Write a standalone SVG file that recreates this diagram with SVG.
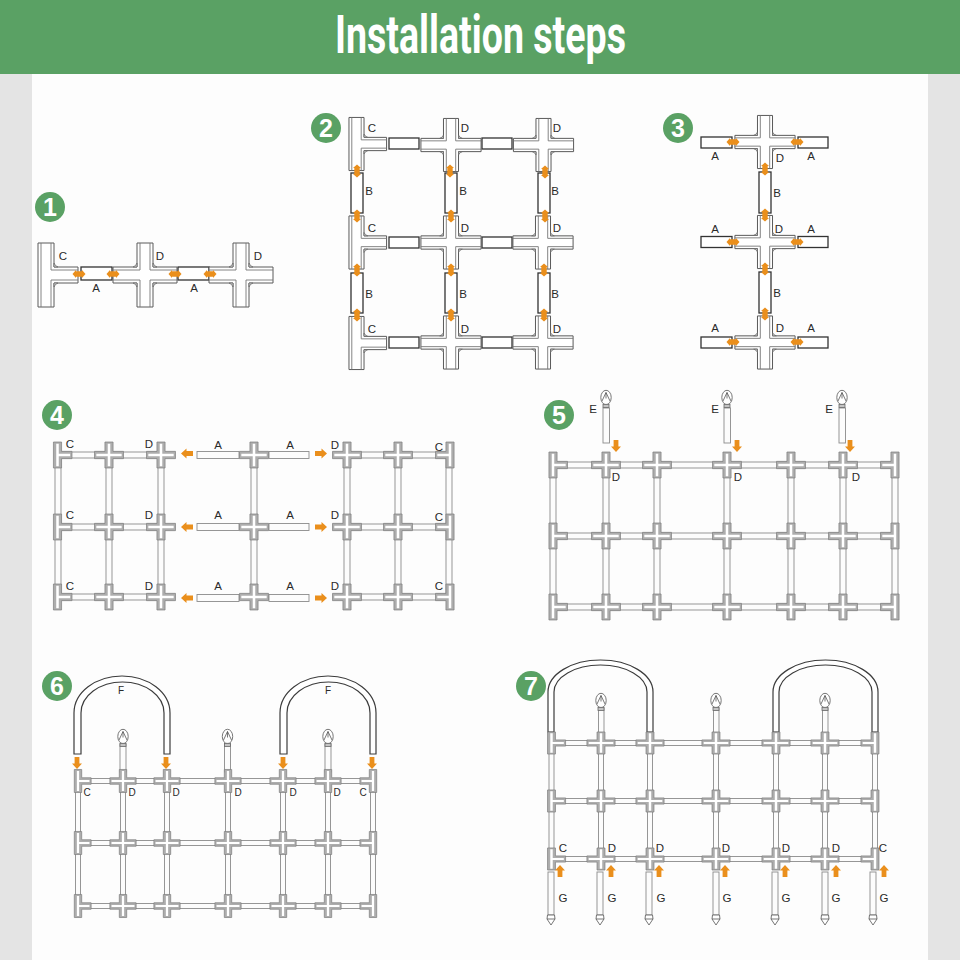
<svg xmlns="http://www.w3.org/2000/svg" width="960" height="960" viewBox="0 0 960 960">
<style>
text{font-family:"Liberation Sans",Arial,sans-serif;fill:#2a2a2a;text-anchor:middle}
.l{font-size:11.5px}.m{font-size:11.5px}.s{font-size:10px}
.num{font-size:25px;font-weight:700;fill:#fff}
.bf{fill:#fff;stroke:#5a5a5a;stroke-width:1;vector-effect:non-scaling-stroke}
.bi{fill:none;stroke:#777;stroke-width:.9;vector-effect:non-scaling-stroke}
.bg{fill:#c9c9c9;stroke:#666;stroke-width:.7;vector-effect:non-scaling-stroke}
.sf{fill:#adadad;stroke:#7c7c7c;stroke-width:.7;vector-effect:non-scaling-stroke}
.sw{fill:#fff;stroke:none}
.rect{fill:#fff;stroke:#333;stroke-width:1.3}
.rod{fill:#fcfcfc;stroke:#8c8c8c;stroke-width:.9}
.arch{fill:#fff;stroke:#3c3c3c;stroke-width:1.2}
.or{fill:#ea8f1c}
.bd{fill:#5aa164}
.pin{fill:#fff;stroke:#666;stroke-width:.9}
.pc{fill:#c4c4c4;stroke:#666;stroke-width:.8}
.pl{fill:none;stroke:#555;stroke-width:.8}
</style>
<defs>
<g id="BX">
<path class="bf" d="M-8,-32H8V-8H32V8H8V32H-8V8H-32V-8H-8Z"/>
<path class="bi" d="M-5,-32V-5H-32M5,-32V-5H32M-5,32V5H-32M5,32V5H32"/>
<path class="bg" d="M8,-12Q9,-9 12,-8H8ZM-8,-12Q-9,-9 -12,-8H-8ZM8,12Q9,9 12,8H8ZM-8,12Q-9,9 -12,8H-8Z"/>
</g>
<g id="BT">
<path class="bf" d="M-8,-32H8V-8H32V8H8V32H-8Z"/>
<path class="bi" d="M-5,-32V32M5,-32V-5H32M5,32V5H32"/>
<path class="bg" d="M8,-12Q9,-9 12,-8H8ZM8,12Q9,9 12,8H8Z"/>
</g>
<g id="SX">
<path class="sf" d="M-9,-32H9V-9H32V9H9V32H-9V9H-32V-9H-9Z"/>
<path class="sw" d="M-2.800,-28H2.800V-2.800H28V2.800H2.800V28H-2.800V2.800H-28V-2.800H-2.800Z"/>
</g>
<g id="ST">
<path class="sf" d="M-9,-32H9V-9H32V9H9V32H-9Z"/>
<path class="sw" d="M-2.800,-28H2.800V-2.800H28V2.800H2.800V28H-2.800Z"/>
</g>
<use id="x2" href="#BX" transform="scale(.94,.83)"/>
<use id="t2" href="#BT" transform="scale(.94,.83)"/>
<use id="x4" href="#SX" transform="scale(.453,.406)"/>
<use id="t4" href="#ST" transform="scale(.453,.406)"/>
<use id="r4" href="#ST" transform="scale(-.453,.406)"/>
<use id="x6" href="#SX" transform="scale(.41,.36)"/>
<use id="t6" href="#ST" transform="scale(.41,.36)"/>
<use id="r6" href="#ST" transform="scale(-.41,.36)"/>
<use id="x7" href="#SX" transform="scale(.44,.345)"/>
<use id="t7" href="#ST" transform="scale(.44,.345)"/>
<use id="r7" href="#ST" transform="scale(-.44,.345)"/>
<path id="oh" class="or" d="M-6.500,0L-3,-4V-2.700H3V-4L6.500,0L3,4V2.700H-3V4Z"/>
<path id="ov" class="or" d="M0,-6.500L4,-3H2.700V3H4L0,6.500L-4,3H-2.700V-3H-4Z"/>
<path id="ar" class="or" d="M-6,-2.400H.5V-5L6,0L.5,5V2.400H-6Z"/>
<g id="head">
<ellipse class="pin" rx="5.2" ry="7.2"/>
<path class="pl" d="M0,-5L-4,3.5M0,-5L4,3.5M0,-5V1"/>
<rect class="pc" x="-3" y="6.8" width="6" height="3.2"/>
</g>
<g id="stake">
<rect class="rod" x="-3" y="0" width="6" height="43"/>
<path class="pin" d="M-3.5,43H3.5L4,47L0,53L-4,47Z"/>
<path class="pl" d="M-4,47H4"/>
</g>
<path id="F" class="arch" d="M74,754V713A48,37 0 0 1 170,713V754H164V713A41.5,31 0 0 0 81,713V754Z"/>
<path id="F7" class="arch" d="M548,732V692A52.5,32 0 0 1 653,692V732H647V692A46.5,27 0 0 0 554,692V732Z"/>
</defs>

<rect width="960" height="960" fill="#e4e4e4"/>
<rect x="32" y="74" width="896" height="886" fill="#fdfdfd"/>
<g id="header">
<rect width="960" height="74" class="bd"/>
<text x="480.500" y="53" font-size="53" textLength="291" lengthAdjust="spacingAndGlyphs" style="fill:#fff;font-family:'Roboto','Liberation Sans',sans-serif;font-weight:700">Installation steps</text>
</g>
<g id="badges">
<g id="badge1"><circle class="bd" cx="50" cy="207" r="15"/><text class="num" x="50" y="216">1</text></g>
<g id="badge2"><circle class="bd" cx="326" cy="128" r="15"/><text class="num" x="326" y="137">2</text></g>
<g id="badge3"><circle class="bd" cx="678" cy="128" r="15"/><text class="num" x="678" y="137">3</text></g>
<g id="badge4"><circle class="bd" cx="57" cy="415" r="15"/><text class="num" x="57" y="424">4</text></g>
<g id="badge5"><circle class="bd" cx="559" cy="415" r="15"/><text class="num" x="559" y="424">5</text></g>
<g id="badge6"><circle class="bd" cx="57" cy="686" r="15"/><text class="num" x="57" y="695">6</text></g>
<g id="badge7"><circle class="bd" cx="531" cy="686" r="15"/><text class="num" x="531" y="695">7</text></g>
</g>

<g id="connectors">
<g id="rods4">
<rect class="rod" x="57" y="452" width="104" height="6"/><rect class="rod" x="57" y="524" width="104" height="6"/><rect class="rod" x="57" y="594" width="104" height="6"/>
<rect class="rod" x="347" y="452" width="103" height="6"/><rect class="rod" x="347" y="524" width="103" height="6"/><rect class="rod" x="347" y="594" width="103" height="6"/>
<rect class="rod" x="55" y="455" width="6" height="142"/><rect class="rod" x="106" y="455" width="6" height="142"/><rect class="rod" x="158" y="455" width="6" height="142"/>
<rect class="rod" x="251" y="455" width="6" height="142"/>
<rect class="rod" x="344" y="455" width="6" height="142"/><rect class="rod" x="395" y="455" width="6" height="142"/><rect class="rod" x="446" y="455" width="6" height="142"/>
<rect class="rod" x="197" y="451.500" width="42" height="7"/><rect class="rod" x="269" y="451.500" width="40" height="7"/>
<rect class="rod" x="197" y="523.500" width="42" height="7"/><rect class="rod" x="269" y="523.500" width="40" height="7"/>
<rect class="rod" x="197" y="594.500" width="42" height="7"/><rect class="rod" x="269" y="594.500" width="40" height="7"/>
</g>
<g id="rods5">
<rect class="rod" x="553" y="462" width="342" height="6"/><rect class="rod" x="553" y="533" width="342" height="6"/><rect class="rod" x="553" y="604" width="342" height="6"/>
<rect class="rod" x="550" y="465" width="6" height="142"/><rect class="rod" x="603" y="465" width="6" height="142"/><rect class="rod" x="654" y="465" width="6" height="142"/><rect class="rod" x="724" y="465" width="6" height="142"/><rect class="rod" x="788" y="465" width="6" height="142"/><rect class="rod" x="840" y="465" width="6" height="142"/><rect class="rod" x="892" y="465" width="6" height="142"/>
</g>
<g id="rods6">
<rect class="rod" x="78" y="778.500" width="295" height="5"/><rect class="rod" x="78" y="840.500" width="295" height="5"/><rect class="rod" x="78" y="903.500" width="295" height="5"/>
<rect class="rod" x="75.500" y="781" width="5" height="125"/><rect class="rod" x="120.500" y="781" width="5" height="125"/><rect class="rod" x="164.500" y="781" width="5" height="125"/><rect class="rod" x="225.500" y="781" width="5" height="125"/><rect class="rod" x="280.500" y="781" width="5" height="125"/><rect class="rod" x="325.500" y="781" width="5" height="125"/><rect class="rod" x="370.500" y="781" width="5" height="125"/>
</g>
<g id="rods7">
<rect class="rod" x="552" y="740.500" width="323" height="5"/><rect class="rod" x="552" y="798.500" width="323" height="5"/><rect class="rod" x="552" y="856.500" width="323" height="5"/>
<rect class="rod" x="549" y="743" width="5" height="116"/><rect class="rod" x="598.500" y="743" width="5" height="116"/><rect class="rod" x="647.500" y="743" width="5" height="116"/><rect class="rod" x="713.500" y="743" width="5" height="116"/><rect class="rod" x="773.500" y="743" width="5" height="116"/><rect class="rod" x="822.500" y="743" width="5" height="116"/><rect class="rod" x="872.500" y="743" width="5" height="116"/>
</g>
</g>

<g id="panel1">
<g id="p1-A1"><rect class="rect" x="81" y="267" width="31" height="13"/></g>
<g id="p1-A2"><rect class="rect" x="178" y="267" width="31" height="13"/></g>
<g id="p1-C" transform="translate(46,275)"><use href="#BT"/></g>
<g id="p1-D1" transform="translate(145,275)"><use href="#BX"/></g>
<g id="p1-D2" transform="translate(241,275)"><use href="#BX"/></g>
<text class="l" x="63" y="260">C</text><text class="l" x="160" y="260">D</text><text class="l" x="258" y="260">D</text>
<text class="l" x="96" y="292">A</text><text class="l" x="194" y="292">A</text>
</g>

<g id="panel2">
<g id="p2-rects">
<rect class="rect" x="389" y="138" width="30" height="11"/><rect class="rect" x="482" y="138" width="30" height="11"/>
<rect class="rect" x="389" y="237" width="30" height="11"/><rect class="rect" x="482" y="237" width="30" height="11"/>
<rect class="rect" x="389" y="337" width="30" height="11"/><rect class="rect" x="482" y="337" width="30" height="11"/>
<rect class="rect" x="351" y="173" width="12" height="40"/><rect class="rect" x="445" y="173" width="12" height="40"/><rect class="rect" x="538" y="173" width="12" height="40"/>
<rect class="rect" x="351" y="273" width="12" height="40"/><rect class="rect" x="445" y="273" width="12" height="40"/><rect class="rect" x="538" y="273" width="12" height="40"/>
</g>
<g id="p2-C1" transform="translate(356.500,144)"><use href="#t2"/></g>
<g id="p2-C2" transform="translate(356.500,242.500)"><use href="#t2"/></g>
<g id="p2-C3" transform="translate(356.500,343)"><use href="#t2"/></g>
<g id="p2-D11" transform="translate(451,145)"><use href="#x2"/></g>
<g id="p2-D12" transform="translate(543.500,145)"><use href="#x2"/></g>
<g id="p2-D21" transform="translate(451,242.500)"><use href="#x2"/></g>
<g id="p2-D22" transform="translate(543,242.500)"><use href="#x2"/></g>
<g id="p2-D31" transform="translate(451,342.500)"><use href="#x2"/></g>
<g id="p2-D32" transform="translate(543,342.500)"><use href="#x2"/></g>
<text class="l" x="372" y="132">C</text><text class="l" x="465" y="132">D</text><text class="l" x="557" y="132">D</text>
<text class="l" x="372" y="232">C</text><text class="l" x="465" y="232">D</text><text class="l" x="557" y="232">D</text>
<text class="l" x="372" y="333">C</text><text class="l" x="465" y="333">D</text><text class="l" x="557" y="333">D</text>
<text class="l" x="369" y="195">B</text><text class="l" x="463" y="195">B</text><text class="l" x="555" y="195">B</text>
<text class="l" x="369" y="298">B</text><text class="l" x="463" y="298">B</text><text class="l" x="555" y="298">B</text>
</g>

<g id="panel3">
<g id="p3-rects">
<rect class="rect" x="701" y="137" width="31" height="11"/><rect class="rect" x="798" y="137" width="30" height="11"/>
<rect class="rect" x="701" y="236.500" width="31" height="11"/><rect class="rect" x="798" y="236.500" width="30" height="11"/>
<rect class="rect" x="701" y="337" width="31" height="11"/><rect class="rect" x="798" y="337" width="30" height="11"/>
<rect class="rect" x="759" y="172" width="12" height="41"/><rect class="rect" x="759" y="272" width="12" height="41"/>
</g>
<g id="p3-D1" transform="translate(765,142)"><use href="#x2"/></g>
<g id="p3-D2" transform="translate(765,242)"><use href="#x2"/></g>
<g id="p3-D3" transform="translate(765,342.500)"><use href="#x2"/></g>
<text class="l" x="715" y="160">A</text><text class="l" x="780" y="162">D</text><text class="l" x="811" y="160">A</text>
<text class="l" x="777" y="197">B</text>
<text class="l" x="715" y="233">A</text><text class="l" x="779" y="233">D</text><text class="l" x="811" y="233">A</text>
<text class="l" x="777" y="297">B</text>
<text class="l" x="715" y="332">A</text><text class="l" x="780" y="332">D</text><text class="l" x="811" y="332">A</text>
</g>

<g id="panel4">
<g id="p4-C1" transform="translate(57.500,455)"><use href="#t4"/></g><g id="p4-C2" transform="translate(57.500,527)"><use href="#t4"/></g><g id="p4-C3" transform="translate(57.500,597)"><use href="#t4"/></g>
<g id="p4-X1" transform="translate(109,455)"><use href="#x4"/></g><g id="p4-X2" transform="translate(109,527)"><use href="#x4"/></g><g id="p4-X3" transform="translate(109,597)"><use href="#x4"/></g>
<g id="p4-D1" transform="translate(161,455)"><use href="#x4"/></g><g id="p4-D2" transform="translate(161,527)"><use href="#x4"/></g><g id="p4-D3" transform="translate(161,597)"><use href="#x4"/></g>
<g id="p4-M1" transform="translate(254,455)"><use href="#x4"/></g><g id="p4-M2" transform="translate(254,527)"><use href="#x4"/></g><g id="p4-M3" transform="translate(254,597)"><use href="#x4"/></g>
<g id="p4-D4" transform="translate(347,455)"><use href="#x4"/></g><g id="p4-D5" transform="translate(347,527)"><use href="#x4"/></g><g id="p4-D6" transform="translate(347,597)"><use href="#x4"/></g>
<g id="p4-X4" transform="translate(398,455)"><use href="#x4"/></g><g id="p4-X5" transform="translate(398,527)"><use href="#x4"/></g><g id="p4-X6" transform="translate(398,597)"><use href="#x4"/></g>
<g id="p4-C4" transform="translate(450,455)"><use href="#r4"/></g><g id="p4-C5" transform="translate(450,527)"><use href="#r4"/></g><g id="p4-C6" transform="translate(450,597)"><use href="#r4"/></g>
<text class="m" x="70" y="448">C</text><text class="m" x="149" y="448">D</text><text class="m" x="218" y="449">A</text><text class="m" x="290" y="449">A</text><text class="m" x="335" y="449">D</text><text class="m" x="439" y="451">C</text>
<text class="m" x="70" y="519">C</text><text class="m" x="149" y="519">D</text><text class="m" x="218" y="519">A</text><text class="m" x="290" y="519">A</text><text class="m" x="335" y="519">D</text><text class="m" x="439" y="521">C</text>
<text class="m" x="70" y="590">C</text><text class="m" x="149" y="590">D</text><text class="m" x="218" y="590">A</text><text class="m" x="290" y="590">A</text><text class="m" x="335" y="590">D</text><text class="m" x="439" y="590">C</text>
</g>

<g id="panel5">
<g id="p5-T1" transform="translate(553,465)"><use href="#t4"/></g><g id="p5-T2" transform="translate(553,536)"><use href="#t4"/></g><g id="p5-T3" transform="translate(553,607)"><use href="#t4"/></g>
<g id="p5-a1" transform="translate(606,465)"><use href="#x4"/></g><g id="p5-a2" transform="translate(606,536)"><use href="#x4"/></g><g id="p5-a3" transform="translate(606,607)"><use href="#x4"/></g>
<g id="p5-b1" transform="translate(657,465)"><use href="#x4"/></g><g id="p5-b2" transform="translate(657,536)"><use href="#x4"/></g><g id="p5-b3" transform="translate(657,607)"><use href="#x4"/></g>
<g id="p5-c1" transform="translate(727,465)"><use href="#x4"/></g><g id="p5-c2" transform="translate(727,536)"><use href="#x4"/></g><g id="p5-c3" transform="translate(727,607)"><use href="#x4"/></g>
<g id="p5-d1" transform="translate(791,465)"><use href="#x4"/></g><g id="p5-d2" transform="translate(791,536)"><use href="#x4"/></g><g id="p5-d3" transform="translate(791,607)"><use href="#x4"/></g>
<g id="p5-e1" transform="translate(843,465)"><use href="#x4"/></g><g id="p5-e2" transform="translate(843,536)"><use href="#x4"/></g><g id="p5-e3" transform="translate(843,607)"><use href="#x4"/></g>
<g id="p5-T4" transform="translate(895,465)"><use href="#r4"/></g><g id="p5-T5" transform="translate(895,536)"><use href="#r4"/></g><g id="p5-T6" transform="translate(895,607)"><use href="#r4"/></g>
<g id="p5-E1"><rect class="rod" x="603" y="408" width="6.500" height="35"/><use href="#head" x="606" y="397.500"/></g>
<g id="p5-E2"><rect class="rod" x="724" y="408" width="6.500" height="35"/><use href="#head" x="727" y="397.500"/></g>
<g id="p5-E3"><rect class="rod" x="839" y="408" width="6.500" height="35"/><use href="#head" x="842" y="397.500"/></g>
<text class="l" x="593" y="413">E</text><text class="l" x="715" y="413">E</text><text class="l" x="829" y="413">E</text>
<text class="l" x="616" y="481">D</text><text class="l" x="738" y="481">D</text><text class="l" x="856" y="481">D</text>
</g>

<g id="panel6">
<g id="p6-F1"><use href="#F"/></g><g id="p6-F2"><use href="#F" x="206"/></g>
<g id="p6-P1"><rect class="rod" x="120" y="744" width="6" height="28"/><use href="#head" x="123" y="736.500"/></g>
<g id="p6-P2"><rect class="rod" x="224.500" y="744" width="6" height="28"/><use href="#head" x="227.500" y="736.500"/></g>
<g id="p6-P3"><rect class="rod" x="325" y="744" width="6" height="28"/><use href="#head" x="328" y="736.500"/></g>
<g id="p6-T1" transform="translate(78,781)"><use href="#t6"/></g><g id="p6-T2" transform="translate(78,843)"><use href="#t6"/></g><g id="p6-T3" transform="translate(78,906)"><use href="#t6"/></g>
<g id="p6-a1" transform="translate(123,781)"><use href="#x6"/></g><g id="p6-a2" transform="translate(123,843)"><use href="#x6"/></g><g id="p6-a3" transform="translate(123,906)"><use href="#x6"/></g>
<g id="p6-b1" transform="translate(167,781)"><use href="#x6"/></g><g id="p6-b2" transform="translate(167,843)"><use href="#x6"/></g><g id="p6-b3" transform="translate(167,906)"><use href="#x6"/></g>
<g id="p6-c1" transform="translate(228,781)"><use href="#x6"/></g><g id="p6-c2" transform="translate(228,843)"><use href="#x6"/></g><g id="p6-c3" transform="translate(228,906)"><use href="#x6"/></g>
<g id="p6-d1" transform="translate(283,781)"><use href="#x6"/></g><g id="p6-d2" transform="translate(283,843)"><use href="#x6"/></g><g id="p6-d3" transform="translate(283,906)"><use href="#x6"/></g>
<g id="p6-e1" transform="translate(328,781)"><use href="#x6"/></g><g id="p6-e2" transform="translate(328,843)"><use href="#x6"/></g><g id="p6-e3" transform="translate(328,906)"><use href="#x6"/></g>
<g id="p6-T4" transform="translate(373,781)"><use href="#r6"/></g><g id="p6-T5" transform="translate(373,843)"><use href="#r6"/></g><g id="p6-T6" transform="translate(373,906)"><use href="#r6"/></g>
<text class="s" x="121" y="694">F</text><text class="s" x="328" y="694">F</text>
<text class="s" x="87" y="796">C</text><text class="s" x="132" y="796">D</text><text class="s" x="176" y="796">D</text><text class="s" x="238" y="796">D</text><text class="s" x="293" y="796">D</text><text class="s" x="337" y="796">D</text><text class="s" x="363" y="796">C</text>
</g>

<g id="panel7">
<g id="p7-F1"><use href="#F7"/></g><g id="p7-F2"><use href="#F7" x="225"/></g>
<g id="p7-P1"><rect class="rod" x="598.500" y="708" width="5.500" height="26"/><use href="#head" x="601" y="700.500"/></g>
<g id="p7-P2"><rect class="rod" x="713.500" y="708" width="5.500" height="26"/><use href="#head" x="716" y="700.500"/></g>
<g id="p7-P3"><rect class="rod" x="822.500" y="708" width="5.500" height="26"/><use href="#head" x="825" y="700.500"/></g>
<g id="p7-T1" transform="translate(551.500,743)"><use href="#t7"/></g><g id="p7-T2" transform="translate(551.500,801)"><use href="#t7"/></g><g id="p7-T3" transform="translate(551.500,859)"><use href="#t7"/></g>
<g id="p7-a1" transform="translate(601,743)"><use href="#x7"/></g><g id="p7-a2" transform="translate(601,801)"><use href="#x7"/></g><g id="p7-a3" transform="translate(601,859)"><use href="#x7"/></g>
<g id="p7-b1" transform="translate(650,743)"><use href="#x7"/></g><g id="p7-b2" transform="translate(650,801)"><use href="#x7"/></g><g id="p7-b3" transform="translate(650,859)"><use href="#x7"/></g>
<g id="p7-c1" transform="translate(716,743)"><use href="#x7"/></g><g id="p7-c2" transform="translate(716,801)"><use href="#x7"/></g><g id="p7-c3" transform="translate(716,859)"><use href="#x7"/></g>
<g id="p7-d1" transform="translate(776,743)"><use href="#x7"/></g><g id="p7-d2" transform="translate(776,801)"><use href="#x7"/></g><g id="p7-d3" transform="translate(776,859)"><use href="#x7"/></g>
<g id="p7-e1" transform="translate(825,743)"><use href="#x7"/></g><g id="p7-e2" transform="translate(825,801)"><use href="#x7"/></g><g id="p7-e3" transform="translate(825,859)"><use href="#x7"/></g>
<g id="p7-T4" transform="translate(875,743)"><use href="#r7"/></g><g id="p7-T5" transform="translate(875,801)"><use href="#r7"/></g><g id="p7-T6" transform="translate(875,859)"><use href="#r7"/></g>
<g id="p7-G1"><use href="#stake" x="551" y="872"/></g><g id="p7-G2"><use href="#stake" x="600" y="872"/></g><g id="p7-G3"><use href="#stake" x="649" y="872"/></g><g id="p7-G4"><use href="#stake" x="716" y="872"/></g><g id="p7-G5"><use href="#stake" x="775" y="872"/></g><g id="p7-G6"><use href="#stake" x="825" y="872"/></g><g id="p7-G7"><use href="#stake" x="873" y="872"/></g>
<text class="l" x="563" y="852">C</text><text class="l" x="612" y="852">D</text><text class="l" x="660" y="852">D</text><text class="l" x="726" y="852">D</text><text class="l" x="786" y="852">D</text><text class="l" x="836" y="852">D</text><text class="l" x="883" y="852">C</text>
<text class="l" x="563" y="902">G</text><text class="l" x="612" y="902">G</text><text class="l" x="661" y="902">G</text><text class="l" x="727" y="902">G</text><text class="l" x="786" y="902">G</text><text class="l" x="836" y="902">G</text><text class="l" x="884" y="902">G</text>
</g>

<g id="arrows">
<use href="#oh" x="79" y="274"/><use href="#oh" x="113" y="274"/><use href="#oh" x="175" y="274"/><use href="#oh" x="210" y="274"/>
<use href="#ov" x="357" y="171"/><use href="#ov" x="357" y="216"/><use href="#ov" x="357" y="270"/><use href="#ov" x="357" y="315"/>
<use href="#ov" x="450" y="171"/><use href="#ov" x="451" y="216"/><use href="#ov" x="451" y="270"/><use href="#ov" x="451" y="315"/>
<use href="#ov" x="545" y="172"/><use href="#ov" x="545" y="216"/><use href="#ov" x="544" y="270"/><use href="#ov" x="544" y="315"/>
<use href="#oh" x="733" y="142"/><use href="#oh" x="797" y="142"/><use href="#oh" x="733" y="242"/><use href="#oh" x="797" y="242"/><use href="#oh" x="733" y="342"/><use href="#oh" x="797" y="342"/>
<use href="#ov" x="765" y="169"/><use href="#ov" x="765" y="215"/><use href="#ov" x="765" y="269"/><use href="#ov" x="765" y="314"/>
<use href="#ar" transform="translate(187,453.500) rotate(180)"/><use href="#ar" transform="translate(187,527) rotate(180)"/><use href="#ar" transform="translate(187,598) rotate(180)"/>
<use href="#ar" transform="translate(321,453.500)"/><use href="#ar" transform="translate(321,527)"/><use href="#ar" transform="translate(321,598)"/>
<use href="#ar" transform="translate(616,446) rotate(90)"/><use href="#ar" transform="translate(737,446) rotate(90)"/><use href="#ar" transform="translate(850,446) rotate(90)"/>
<use href="#ar" transform="translate(77,763) rotate(90)"/><use href="#ar" transform="translate(166,763) rotate(90)"/><use href="#ar" transform="translate(283,763) rotate(90)"/><use href="#ar" transform="translate(372,763) rotate(90)"/>
<use href="#ar" transform="translate(560,871) rotate(-90)"/><use href="#ar" transform="translate(611,871) rotate(-90)"/><use href="#ar" transform="translate(659,871) rotate(-90)"/><use href="#ar" transform="translate(725,871) rotate(-90)"/><use href="#ar" transform="translate(785,871) rotate(-90)"/><use href="#ar" transform="translate(836,871) rotate(-90)"/><use href="#ar" transform="translate(884,871) rotate(-90)"/>
</g>
</svg>
